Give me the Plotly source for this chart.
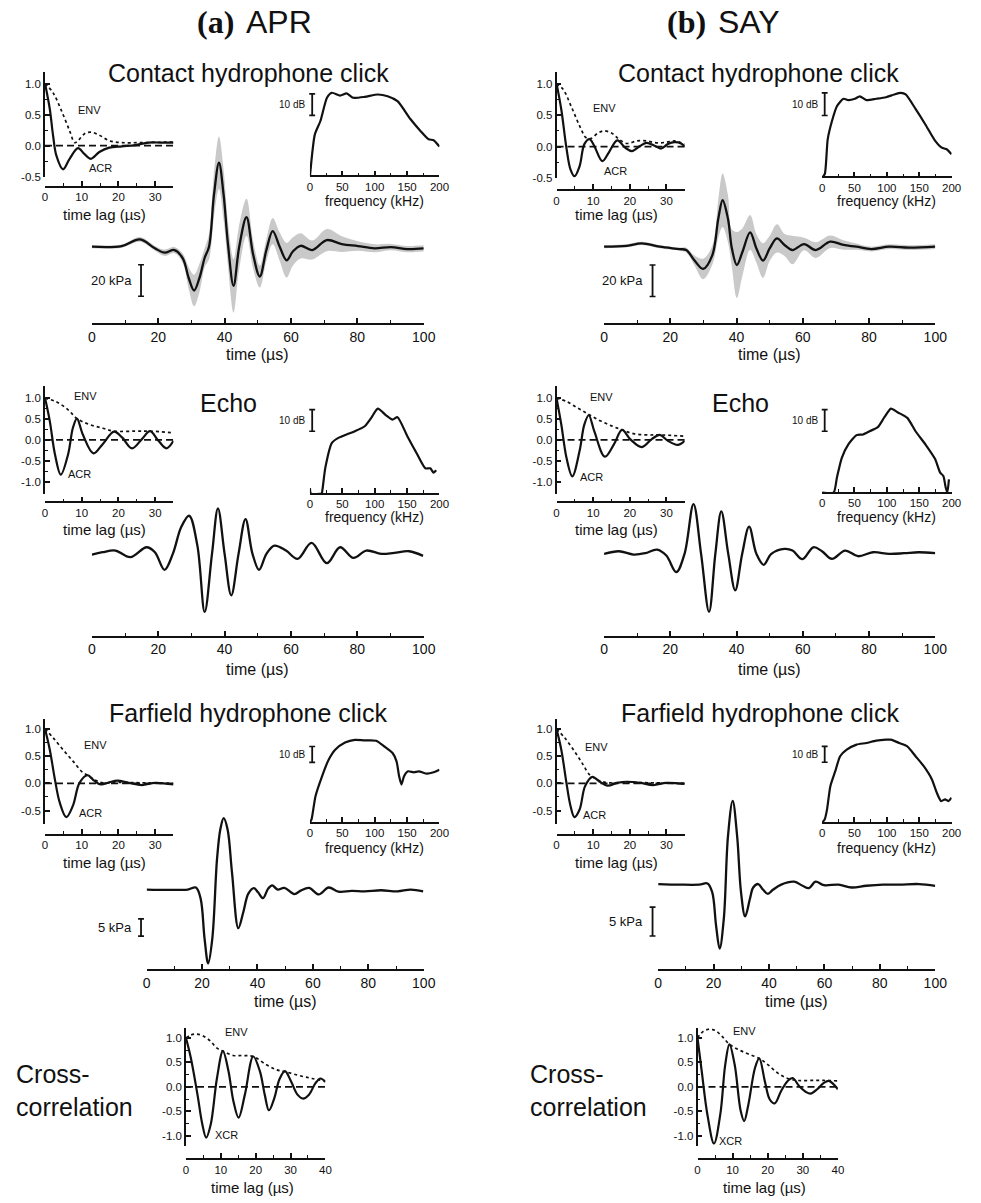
import plotly.graph_objects as go

W, H = 981, 1203
INK = "#111111"
FONT = "Liberation Sans, Arial, sans-serif"

# ---------------- DATA ----------------
# (a) APR contact hydrophone click: mean waveform (kPa) and spread (kPa)
a_click_t = [0, 9, 14.5, 19, 21.9, 24.9, 27.4, 29.2, 30.8, 32.4, 34, 35.3, 36.8, 38.3, 39.7, 41, 42.7, 44.4,
             46.6, 48.6, 50.6, 52.6, 54.5, 56.6, 58.7, 60.5, 62.9, 66.4, 70.8, 75.3, 80.2, 85.2, 90.1, 95.1, 100]
a_click_p = [0, 0.4, 4.6, -1, -3.8, -2.1, -7.4, -20, -27.8, -20, -7, 0, 33, 53.3, 33, 2, -24.8, 0,
             18.7, -5, -18.9, -2, 9.9, 0, -8.6, -3.2, 0.6, -2.1, 4.2, 1.7, 0.4, -1, -0.2, -1.5, -1]
a_click_sd = [1, 1, 1.5, 1.5, 2, 2, 3, 7, 10, 9, 6, 8, 14, 16.6, 16, 14, 17, 14,
              11.8, 9, 7, 7, 8.4, 9, 11, 9, 8, 6, 7, 5, 3, 2.5, 2, 2, 2]

a_click_lag = [0, 1.3, 2.2, 3.1, 4.9, 6.7, 9.0, 10.7, 12.5, 14.8, 17.5, 21, 24.6, 28.2, 31.8, 35]
a_click_acr = [1.0, 0.59, 0.16, -0.16, -0.38, -0.21, -0.04, -0.13, -0.21, -0.1, -0.03, -0.01, 0.01, 0.05, 0.05, 0.05]
a_click_env_lag = [0, 2.2, 4.5, 6.7, 8.1, 9, 10.7, 12.5, 14.8, 17.5, 21, 26.4, 35]
a_click_env = [1.0, 0.85, 0.56, 0.24, 0.05, 0.08, 0.19, 0.22, 0.17, 0.08, 0.05, 0.05, 0.06]

a_click_f = [0, 7.6, 16.2, 26.3, 33.9, 46.6, 56.7, 66.8, 84.6, 104.8, 120, 135.2, 155.4, 170.6, 183.3, 190.9, 200]
a_click_db = [-40, -20.5, -14.3, -3.5, -1.2, -2.5, -1.5, -3.5, -3.1, -2.0, -2.8, -5.1, -13.5, -18.9, -22.8, -23.2, -26.2]

# (a) APR echo (relative amplitude)
a_echo_t = [0, 3.2, 7.1, 11.6, 16.5, 19, 21.9, 24.4, 26.9, 29.3, 31.8, 34, 36.2, 38, 40, 42, 44.2, 46.3,
            48.4, 50.4, 52.6, 55, 58.5, 62, 66.2, 70.8, 74.8, 78.8, 82.7, 87.2, 91.1, 95.6, 99.8]
a_echo_p = [-0.02, 0.05, 0.1, -0.1, 0.2, 0.05, -0.48, 0, 0.8, 1.15, 0.25, -1.75, 0, 1.37, 0, -1.25, 0, 1.05,
            0, -0.48, 0, 0.25, 0.1, -0.15, 0.33, -0.28, 0.2, -0.12, 0.1, 0, 0.03, 0.08, -0.06]
a_echo_lag = [0, 1.3, 2.7, 4.3, 6.3, 7.6, 8.7, 10.3, 13.2, 15.7, 18.8, 21, 23.7, 26.4, 28.6, 30.9, 33.1, 35]
a_echo_acr = [1.0, 0.45, -0.34, -0.83, -0.34, 0.29, 0.51, 0.13, -0.32, -0.1, 0.2, 0.06, -0.2, 0.02, 0.21, -0.02, -0.2, -0.02]
a_echo_env_lag = [0, 3.1, 6.3, 8.7, 12.1, 15.7, 18.8, 24.6, 28.6, 35]
a_echo_env = [1.0, 0.91, 0.72, 0.51, 0.37, 0.28, 0.21, 0.21, 0.21, 0.17]
a_echo_f = [0, 1.5, 18, 18.7, 23.8, 33.9, 44, 59.2, 69.4, 84.6, 94.7, 104.8, 117.5, 127.6, 135.2, 150.4, 165.6,
            178.2, 185.8, 190.9, 194.9]
a_echo_db = [-37.5, -40, -40, -39.5, -28, -16.5, -14.2, -12.3, -11.1, -8.8, -4.9, -0.6, -3.7, -5.7, -4.6, -13.4, -21.8,
             -28.3, -28.3, -30.3, -29.2]

# (a) APR farfield hydrophone click (kPa)
a_far_t = [0, 7.7, 14.8, 17.8, 19.5, 20.9, 22.2, 23.7, 25.4, 26.6, 27.8, 29.2, 30.8, 33.1, 34.9, 36.7, 38.7, 40.2,
           42, 43.8, 45.3, 47.3, 49.7, 53.3, 55.6, 58.6, 62.1, 65.7, 69.2, 74, 78.7, 84.6, 90.5, 95.3, 99.8]
a_far_p = [0, -0.1, 0, 0.6, -2.7, -14.2, -21.4, -14.2, 8.8, 17.5, 20.7, 17.5, 5, -11.2, -6.5, -1.2, 0.4, -0.8,
           -2.5, 0.2, 1.2, 0, 0.5, -1.3, -0.3, 0.5, -1.4, 0.6, -0.6, -0.4, -0.5, -0.2, -0.5, 0, -0.5]
a_far_lag = [0, 1.3, 2.7, 4, 5.8, 7.6, 9.4, 11.6, 13.4, 15.2, 17.5, 19.7, 22.8, 26.4, 30, 35]
a_far_acr = [1.0, 0.62, 0.07, -0.35, -0.62, -0.41, 0.01, 0.15, 0.05, -0.02, 0.02, 0.05, 0.01, -0.03, 0.01, -0.02]
a_far_env_lag = [0, 2.2, 4.9, 7.6, 10.3, 11.6, 13.4, 15.7, 20.1, 26.4, 35]
a_far_env = [1.0, 0.84, 0.62, 0.41, 0.2, 0.15, 0.07, 0.01, 0.02, 0.01, 0]
a_far_f = [0, 2.5, 8.6, 18.7, 28.9, 39, 54.2, 69.4, 84.6, 102.3, 114.9, 127.6, 133.7, 137.7, 141.3, 145.3, 151.4,
           160.5, 168.1, 180.8, 190.9, 200]
a_far_db = [-52, -50, -35.4, -22.9, -12.5, -6.25, -1.7, 0, -0.4, -0.6, -4.2, -8.3, -13.5, -22.9, -28.1, -22.9, -19.8,
            -20.4, -19.8, -21.3, -20.4, -18.75]

# (a) APR cross-correlation
a_xcr_lag = [0, 1.4, 3.3, 4.7, 5.8, 7.1, 8.9, 10.6, 12.2, 13.6, 15.1, 16.9, 19.3, 21.2, 22.6, 23.8, 25.4, 26.8,
             28.4, 30.1, 32, 33.6, 35.3, 37.2, 38.6, 40]
a_xcr = [1.0, 0.59, -0.16, -0.77, -1.04, -0.77, 0.18, 0.73, 0.32, -0.29, -0.63, -0.16, 0.62, 0.32, -0.16, -0.48,
         -0.22, 0.15, 0.32, 0.12, -0.16, -0.24, -0.16, 0.08, 0.17, 0.1]
a_xenv_lag = [0, 1.4, 2.8, 4.7, 7.1, 8.9, 10.6, 13.6, 16.5, 19.3, 23.1, 25.9, 28.4, 32.5, 36.2, 40]
a_xenv = [1.0, 1.06, 1.08, 1.05, 0.93, 0.79, 0.73, 0.64, 0.64, 0.62, 0.45, 0.35, 0.31, 0.23, 0.17, 0.12]

# (b) SAY contact hydrophone click
b_click_t = [0, 6.9, 11.4, 16.8, 22.8, 24.8, 27.2, 29.9, 32.7, 34.5, 35.8, 37.4, 38.6, 40.1, 41.8, 44.1, 46, 48,
             50, 52.2, 54.5, 56.9, 60.4, 63.9, 68.3, 72.3, 76.2, 80.7, 86.1, 92.1, 100]
b_click_p = [0, 0.6, 2.1, 0, -1.5, -2.1, -8.4, -14.1, -5.3, 17.9, 29.5, 17.9, -1.1, -11.6, -3.2, 9.1, -1.1, -8.8,
             -1.1, 5.3, 1.1, -2.1, 1.7, -2.1, 3.2, 1.1, 0, -1.5, 0, -0.6, 0]
b_click_sd = [1, 1, 1, 1, 1, 1.5, 3, 6.5, 6, 12, 17, 15, 12, 21, 15, 11, 9, 11,
              8, 9, 7, 9, 4, 5, 4, 3, 2, 1.5, 1.5, 1.5, 1.5]
b_click_lag = [0, 1.3, 2.7, 3.8, 4.9, 6.3, 7.6, 9, 10.3, 12.5, 14.3, 16.6, 18.8, 20.6, 22.8, 24.6, 26.9, 28.6,
               30.4, 32.2, 34, 35]
b_click_acr = [1.0, 0.59, -0.02, -0.36, -0.47, -0.31, 0.04, 0.12, 0.01, -0.23, -0.09, 0.1, -0.02, -0.07, 0.01,
               0.06, 0.01, -0.03, 0.04, 0.07, 0.05, 0]
b_click_env_lag = [0, 1.8, 4, 6.3, 8.1, 9.4, 11.2, 13, 15.2, 17, 19.2, 21.9, 24.6, 27.3, 30, 32.2, 35]
b_click_env = [1.0, 0.91, 0.64, 0.33, 0.14, 0.13, 0.21, 0.25, 0.21, 0.12, 0.05, 0.09, 0.09, 0.06, 0.07, 0.09, 0.04]
b_click_f = [0, 4.1, 8.6, 15.2, 22.8, 32.9, 40.5, 50.6, 58.2, 68.4, 83.5, 98.7, 111.4, 121.5, 129.1, 144.3,
             159.5, 174.7, 184.8, 192.4, 200]
b_click_db = [-37.5, -36, -20.6, -12.5, -5.9, -2.6, -3.2, -2.6, -1.5, -3.2, -2.6, -1.9, -0.7, 0, -0.7, -7.1,
              -14, -21.3, -24.3, -25, -27.2]

# (b) SAY echo
b_echo_t = [0, 4.5, 8.9, 12.4, 16, 18.8, 21.8, 24.3, 27, 29.3, 31.7, 33.6, 35.4, 37.5, 39.6, 41.7, 43.8, 46,
            48.2, 50.5, 54.5, 56.9, 59.9, 63.2, 65.8, 68.8, 72.8, 76.7, 81.2, 86.1, 90.6, 95, 100]
b_echo_p = [0, 0.08, -0.02, 0.02, 0.13, -0.05, -0.55, 0, 1.5, 0, -1.75, 0, 1.28, 0, -1.1, 0, 0.82, 0,
            -0.33, 0, 0.15, 0.1, -0.16, 0.2, 0.08, -0.15, 0.1, -0.07, 0.05, 0, 0.02, 0.05, 0.02]
b_echo_lag = [0, 1.3, 2.7, 4.3, 6.3, 7.6, 8.8, 10.3, 13.2, 15.7, 17.9, 20.1, 23.3, 26, 28.2, 30.4, 33.1, 35]
b_echo_acr = [1.0, 0.37, -0.42, -0.87, -0.26, 0.37, 0.59, 0.21, -0.4, -0.1, 0.24, 0.02, -0.17, 0.02, 0.12,
              -0.02, -0.12, -0.02]
b_echo_env_lag = [0, 2.7, 5.8, 8.8, 12.1, 15.2, 17.9, 21, 24.6, 28.2, 35]
b_echo_env = [1.0, 0.92, 0.76, 0.61, 0.45, 0.33, 0.24, 0.15, 0.12, 0.12, 0.09]
b_echo_f = [0, 17.7, 22.8, 30.4, 40.5, 53.2, 63.3, 73.4, 86.1, 96.2, 106.3, 116.5, 131.6, 144.3, 159.5, 174.7,
            182.3, 187.3, 190.9, 193.4, 195.9]
b_echo_db = [-38.9, -38.9, -32, -22.8, -16.6, -12.3, -12, -10.5, -8.6, -4, 0, -1.7, -4.3, -10.5, -16.6, -23.5,
             -29.7, -31.2, -36.6, -38.9, -32.8]

# (b) SAY farfield hydrophone click
b_far_t = [0, 7.7, 14.8, 17.8, 19.5, 20.9, 22.2, 23.7, 25.2, 26.9, 28.5, 29.9, 31.4, 33.1, 34.3, 36.1, 37.9, 39.6,
           41.4, 44.4, 49.1, 52.1, 54.4, 56.8, 59.8, 65.1, 69.8, 75.1, 81.1, 87, 94.1, 100]
b_far_p = [0, -0.1, -0.1, 0.1, -1.4, -7.2, -11.2, -6, 8.3, 14.4, 8.3, -1.4, -5.6, -2.6, -0.6, 0, -1, -1.7,
           -1, -0.1, 0.4, -0.3, -0.7, 0.4, -0.2, -0.1, -0.6, -0.3, -0.1, -0.1, 0, -0.3]
b_far_lag = [0, 1.3, 2.7, 3.8, 4.9, 6.3, 7.8, 9.8, 11.6, 13.9, 16.6, 19.2, 22.8, 26.4, 30, 35]
b_far_acr = [1.0, 0.62, 0.01, -0.41, -0.62, -0.48, -0.05, 0.12, 0.04, -0.04, 0.01, 0.03, 0.01, -0.03, 0.01, -0.01]
b_far_env_lag = [0, 2.2, 4.9, 7.2, 9, 10.3, 12.1, 14.3, 19.2, 26.4, 35]
b_far_env = [1.0, 0.84, 0.59, 0.35, 0.16, 0.1, 0.04, 0.01, 0.02, 0.01, 0]
b_far_f = [0, 4.1, 7.6, 12.7, 20.3, 27.8, 38, 53.2, 68.4, 83.5, 98.7, 106.3, 119, 131.6, 144.3, 157, 169.6,
           177.2, 183.8, 189.9, 194.9, 200]
b_far_db = [-52.5, -50.4, -44.2, -29.6, -20.2, -10.8, -6.7, -3.5, -2.5, -1, -0.4, -0.4, -2.5, -4.6, -10.8, -17.1,
            -25.4, -33.8, -39, -37.9, -39, -36.9]

# (b) SAY cross-correlation
b_xcr_lag = [0, 1.2, 2.8, 4.7, 6.5, 7.9, 9.1, 10.6, 12.3, 13.3, 14.5, 16.4, 17.6, 19.2, 20.6, 22, 23.8, 25.7,
             27.1, 29, 30.8, 32.2, 34.1, 36, 37.4, 38.8, 40]
b_xcr = [1.0, 0.32, -0.56, -1.16, -0.56, 0.45, 0.87, 0.45, -0.49, -0.7, -0.36, 0.39, 0.58, 0.11, -0.26, -0.34,
         -0.09, 0.12, 0.18, 0.01, -0.1, -0.14, -0.05, 0.08, 0.12, 0.05, -0.05]
b_xenv_lag = [0, 1.4, 3.3, 5.1, 7, 9.1, 11.7, 14.5, 17.6, 20.1, 22.9, 25.7, 28.5, 32.2, 36, 40]
b_xenv = [1.0, 1.12, 1.18, 1.15, 1.03, 0.87, 0.76, 0.67, 0.58, 0.45, 0.28, 0.17, 0.13, 0.13, 0.13, 0.12]

# tick values / labels
time_ticks = [0, 20, 40, 60, 80, 100]
time_labels = ["0", "20", "40", "60", "80", "100"]
time_minor = [10, 30, 50, 70, 90]
lag_ticks = [0, 10, 20, 30]
lag_labels = ["0", "10", "20", "30"]
lag_minor = [5, 15, 25, 35]
xlag_ticks = [0, 10, 20, 30, 40]
xlag_labels = ["0", "10", "20", "30", "40"]
xlag_minor = [5, 15, 25, 35]
freq_ticks = [0, 50, 100, 150, 200]
freq_labels = ["0", "50", "100", "150", "200"]
freq_minor = [25, 75, 125, 175]
corr_ticks_short = [-0.5, 0.0, 0.5, 1.0]
corr_labels_short = ["-0.5", "0.0", "0.5", "1.0"]
corr_minor_short = [-0.25, 0.25, 0.75]
corr_ticks_full = [-1.0, -0.5, 0.0, 0.5, 1.0]
corr_labels_full = ["-1.0", "-0.5", "0.0", "0.5", "1.0"]
corr_minor_full = [-0.75, -0.25, 0.25, 0.75]

# ---------------- LAYOUT HELPERS ----------------
def fx(px):
    return px / W

def fy(py):
    return 1 - py / H

fig = go.Figure()
axes_layout = {}
shapes = []
annots = []
counter = [0]


def new_axes(xdom, xr, xline, ydom, yr, xt, xl, xm, tickfs, yt=None, yl=None, ym=None):
    counter[0] += 1
    i = counter[0]
    xa, ya = ("xaxis", "yaxis") if i == 1 else (f"xaxis{i}", f"yaxis{i}")
    xid, yid = ("x", "y") if i == 1 else (f"x{i}", f"y{i}")
    axes_layout[xa] = dict(
        domain=[fx(xdom[0]), fx(xdom[1])], range=xr, anchor="free", position=fy(xline),
        showline=True, linecolor=INK, linewidth=1.6, showgrid=False, zeroline=False,
        ticks="inside", ticklen=5, tickwidth=1.5, tickcolor=INK,
        tickmode="array", tickvals=xt, ticktext=xl,
        tickfont=dict(family=FONT, size=tickfs, color=INK),
        minor=dict(tickmode="array", tickvals=xm, ticks="inside", ticklen=3, tickwidth=1.3,
                   tickcolor=INK, showgrid=False),
        fixedrange=True,
    )
    if yt is None:
        axes_layout[ya] = dict(domain=[fy(ydom[1]), fy(ydom[0])], range=yr, visible=False,
                               anchor=xid, fixedrange=True)
    else:
        axes_layout[ya] = dict(
            domain=[fy(ydom[1]), fy(ydom[0])], range=yr, anchor=xid, side="left",
            showline=True, linecolor=INK, linewidth=1.6, showgrid=False, zeroline=False,
            ticks="inside", ticklen=5, tickwidth=1.5, tickcolor=INK,
            tickmode="array", tickvals=yt, ticktext=yl,
            tickfont=dict(family=FONT, size=tickfs, color=INK),
            minor=dict(tickmode="array", tickvals=ym, ticks="inside", ticklen=3, tickwidth=1.3,
                       tickcolor=INK, showgrid=False),
            fixedrange=True,
        )
    return xid, yid


def line(x, y, xid, yid, width=2.2, dash="solid", smooth=1.0):
    fig.add_trace(go.Scatter(x=x, y=y, xaxis=xid, yaxis=yid, mode="lines",
                             line=dict(color=INK, width=width, dash=dash, shape="spline", smoothing=smooth),
                             hoverinfo="skip", showlegend=False))


def band(x, mean, sd, xid, yid):
    lo = [m - s for m, s in zip(mean, sd)]
    hi = [m + s for m, s in zip(mean, sd)]
    fig.add_trace(go.Scatter(x=x, y=lo, xaxis=xid, yaxis=yid, mode="lines",
                             line=dict(width=0, shape="spline", color="#c9c9c9"),
                             hoverinfo="skip", showlegend=False))
    fig.add_trace(go.Scatter(x=x, y=hi, xaxis=xid, yaxis=yid, mode="lines", fill="tonexty",
                             fillcolor="#c9c9c9", line=dict(width=0, shape="spline", color="#c9c9c9"),
                             hoverinfo="skip", showlegend=False))


def zero_line(xid, yid):
    shapes.append(dict(type="line", xref=f"{xid} domain", yref=yid, x0=0, x1=1, y0=0, y1=0,
                       line=dict(color=INK, width=1.8, dash="7px,4px")))


def scalebar(px, yid, y0, y1, label, fs, gap):
    shapes.append(dict(type="line", xref="paper", yref=yid, x0=fx(px), x1=fx(px), y0=y0, y1=y1,
                       line=dict(color=INK, width=1.8)))
    for yy in (y0, y1):
        shapes.append(dict(type="line", xref="paper", yref=yid, x0=fx(px - 3), x1=fx(px + 3), y0=yy, y1=yy,
                           line=dict(color=INK, width=1.6)))
    annots.append(dict(text=label, xref="paper", yref=yid, x=fx(px - gap), y=(y0 + y1) / 2,
                       xanchor="right", yanchor="middle", showarrow=False,
                       font=dict(family=FONT, size=fs, color=INK)))


def text_px(txt, px, py, fs, xanchor="center", family=FONT, align="center"):
    annots.append(dict(text=txt, xref="paper", yref="paper", x=fx(px), y=fy(py), xanchor=xanchor,
                       yanchor="middle", showarrow=False, align=align,
                       font=dict(family=family, size=fs, color=INK)))


def label_data(txt, x, y, xid, yid, fs=11, xanchor="left"):
    annots.append(dict(text=txt, xref=xid, yref=yid, x=x, y=y, xanchor=xanchor, yanchor="middle",
                       showarrow=False, font=dict(family=FONT, size=fs, color=INK)))


def main_panel(xdom, xline, ydom, yr, t, p, title_py, sd=None):
    xid, yid = new_axes(xdom, [0, 100], xline, ydom, yr, time_ticks, time_labels, time_minor, 14)
    if sd is not None:
        band(t, p, sd, xid, yid)
    line(t, p, xid, yid, width=2.3)
    text_px("time (µs)", (xdom[0] + xdom[1]) / 2, title_py, 16)
    return xid, yid


def acr_panel(xdom, xline, ydom, yr, yt, yl, ym, lag, acr, elag, env, title_px, title_py,
              env_lbl, acr_lbl, xt=lag_ticks, xl=lag_labels, xm=lag_minor, xr=(0, 35), name="ACR"):
    xid, yid = new_axes(xdom, list(xr), xline, ydom, yr, xt, xl, xm, 11.5, yt, yl, ym)
    zero_line(xid, yid)
    line(elag, env, xid, yid, width=1.7, dash="dot")
    line(lag, acr, xid, yid, width=2.2)
    text_px("time lag (µs)", title_px, title_py, 15)
    label_data("ENV", env_lbl[0], env_lbl[1], xid, yid)
    label_data(name, acr_lbl[0], acr_lbl[1], xid, yid)
    return xid, yid


def spec_panel(xdom, xline, ydom, yr, f, db, title_py, bar_px, bar_y):
    xid, yid = new_axes(xdom, [0, 200], xline, ydom, yr, freq_ticks, freq_labels, freq_minor, 11.5)
    line(f, db, xid, yid, width=2.2, smooth=0.6)
    text_px("frequency (kHz)", (xdom[0] + xdom[1]) / 2, title_py, 14)
    scalebar(bar_px, yid, bar_y[0], bar_y[1], "10 dB", 10, 5)
    return xid, yid


# ---------------- COLUMN (a) APR ----------------
ax = main_panel((89.3, 426.7), 325.7, (130, 320), [-45.5, 74.5], a_click_t, a_click_p, 356, a_click_sd)
scalebar(139.3, ax[1], -11.4, -31.4, "20 kPa", 13, 7.5)
acr_panel((41.7, 172.3), 187.7, (72.7, 177.7), [-0.5, 1.18], corr_ticks_short, corr_labels_short,
          corr_minor_short, a_click_lag, a_click_acr, a_click_env_lag, a_click_env, 102, 216,
          (8.4, 0.57), (11.5, -0.36))
spec_panel((311, 442.7), 177.3, (85, 177.3), [-40, 2.6], a_click_f, a_click_db, 202.3, 313.3, (-1.7, -11.7))
text_px("Contact hydrophone click", 248.3, 73.3, 25)

main_panel((89.3, 426.7), 640, (440, 630), [-2.2, 3.5], a_echo_t, a_echo_p, 673.3)
acr_panel((41.7, 172.3), 505, (388.3, 496), [-1.28, 1.28], corr_ticks_full, corr_labels_full,
          corr_minor_full, a_echo_lag, a_echo_acr, a_echo_env_lag, a_echo_env, 102, 531.7,
          (7.3, 1.06), (5.8, -0.81))
spec_panel((311, 442.7), 496, (405, 496), [-40, 2.0], a_echo_f, a_echo_db, 519.3, 313.3, (-1.1, -11.1))
text_px("Echo", 228.3, 405, 25)

ax = main_panel((145, 426.7), 975, (780, 972), [-22.5, 32.9], a_far_t, a_far_p, 1007)
scalebar(139.3, ax[1], -8.5, -13.5, "5 kPa", 13, 7.5)
acr_panel((41.7, 172.3), 839, (722.3, 828.3), [-0.75, 1.19], corr_ticks_short, corr_labels_short,
          corr_minor_short, a_far_lag, a_far_acr, a_far_env_lag, a_far_env, 102, 866.7,
          (10.0, 0.7), (8.6, -0.54))
spec_panel((311, 442.7), 826.7, (740, 826.7), [-52, 2.2], a_far_f, a_far_db, 852.3, 313.3, (-4.2, -14.2))
text_px("Farfield hydrophone click", 248.3, 716.7, 25)

acr_panel((185, 326.7), 1165, (1033.3, 1151.7), [-1.21, 1.2], corr_ticks_full, corr_labels_full,
          corr_minor_full, a_xcr_lag, a_xcr, a_xenv_lag, a_xenv, 253, 1193.3,
          (10.5, 1.12), (7.8, -0.99), xt=xlag_ticks, xl=xlag_labels, xm=xlag_minor, xr=(0, 40), name="XCR")
text_px("Cross-<br>correlation", 10, 1096, 25, xanchor="left", align="left")

# ---------------- COLUMN (b) SAY ----------------
ax = main_panel((610, 946.7), 325.7, (130, 320), [-45.5, 74.5], b_click_t, b_click_p, 356, b_click_sd)
scalebar(659.3, ax[1], -11.6, -31.6, "20 kPa", 13, 7.5)
acr_panel((561.7, 692), 191, (72.7, 179), [-0.5, 1.18], corr_ticks_short, corr_labels_short,
          corr_minor_short, b_click_lag, b_click_acr, b_click_env_lag, b_click_env, 623, 216,
          (9.4, 0.62), (12.4, -0.39))
spec_panel((831.7, 963.3), 178.3, (85, 178.3), [-37.5, 3.7], b_click_f, b_click_db, 202.3, 834.3, (0, -10))
text_px("Contact hydrophone click", 766.7, 73.3, 25)

main_panel((610, 946.7), 640, (440, 630), [-2.2, 3.5], b_echo_t, b_echo_p, 673.3)
acr_panel((561.7, 692), 505, (388.3, 496), [-1.28, 1.28], corr_ticks_full, corr_labels_full,
          corr_minor_full, b_echo_lag, b_echo_acr, b_echo_env_lag, b_echo_env, 623, 531.7,
          (8.5, 1.02), (5.9, -0.89))
spec_panel((831.7, 963.3), 495, (405, 495), [-38.9, 2.6], b_echo_f, b_echo_db, 519.3, 834.3, (-0.5, -10.5))
text_px("Echo", 748.3, 405, 25)

ax = main_panel((665, 946.7), 975, (780, 972), [-14.4, 18.7], b_far_t, b_far_p, 1007)
scalebar(659.3, ax[1], -4.0, -9.0, "5 kPa", 13, 7.5)
acr_panel((561.7, 692), 839, (722.3, 828.3), [-0.75, 1.19], corr_ticks_short, corr_labels_short,
          corr_minor_short, b_far_lag, b_far_acr, b_far_env_lag, b_far_env, 623, 866.7,
          (7.3, 0.67), (6.6, -0.59))
spec_panel((831.7, 963.3), 826.7, (740, 826.7), [-52.5, 1.7], b_far_f, b_far_db, 852.3, 834.3, (-4.6, -14.6))
text_px("Farfield hydrophone click", 768.3, 716.7, 25)

acr_panel((705, 847.7), 1165, (1033.3, 1151.7), [-1.21, 1.2], corr_ticks_full, corr_labels_full,
          corr_minor_full, b_xcr_lag, b_xcr, b_xenv_lag, b_xenv, 773, 1193.3,
          (9.6, 1.14), (5.6, -1.1), xt=xlag_ticks, xl=xlag_labels, xm=xlag_minor, xr=(0, 40), name="XCR")
text_px("Cross-<br>correlation", 533, 1096, 25, xanchor="left", align="left")

# ---------------- HEADERS ----------------
SERIF = "Liberation Serif, Times New Roman, serif"
text_px("<b>(a)</b>", 236, 22, 32, xanchor="right", family=SERIF)
text_px("APR", 244, 22, 32, xanchor="left")
text_px("<b>(b)</b>", 716, 22, 32, xanchor="right", family=SERIF)
text_px("SAY", 724, 22, 32, xanchor="left")

fig.update_layout(
    width=W, height=H, margin=dict(l=0, r=0, t=0, b=0),
    paper_bgcolor="white", plot_bgcolor="rgba(0,0,0,0)",
    font=dict(family=FONT, color=INK),
    shapes=shapes, annotations=annots, showlegend=False,
    **axes_layout,
)

fig.write_html("out.html", config={"displayModeBar": False},
               post_script="document.body.style.margin='0';document.body.style.overflow='hidden';")
